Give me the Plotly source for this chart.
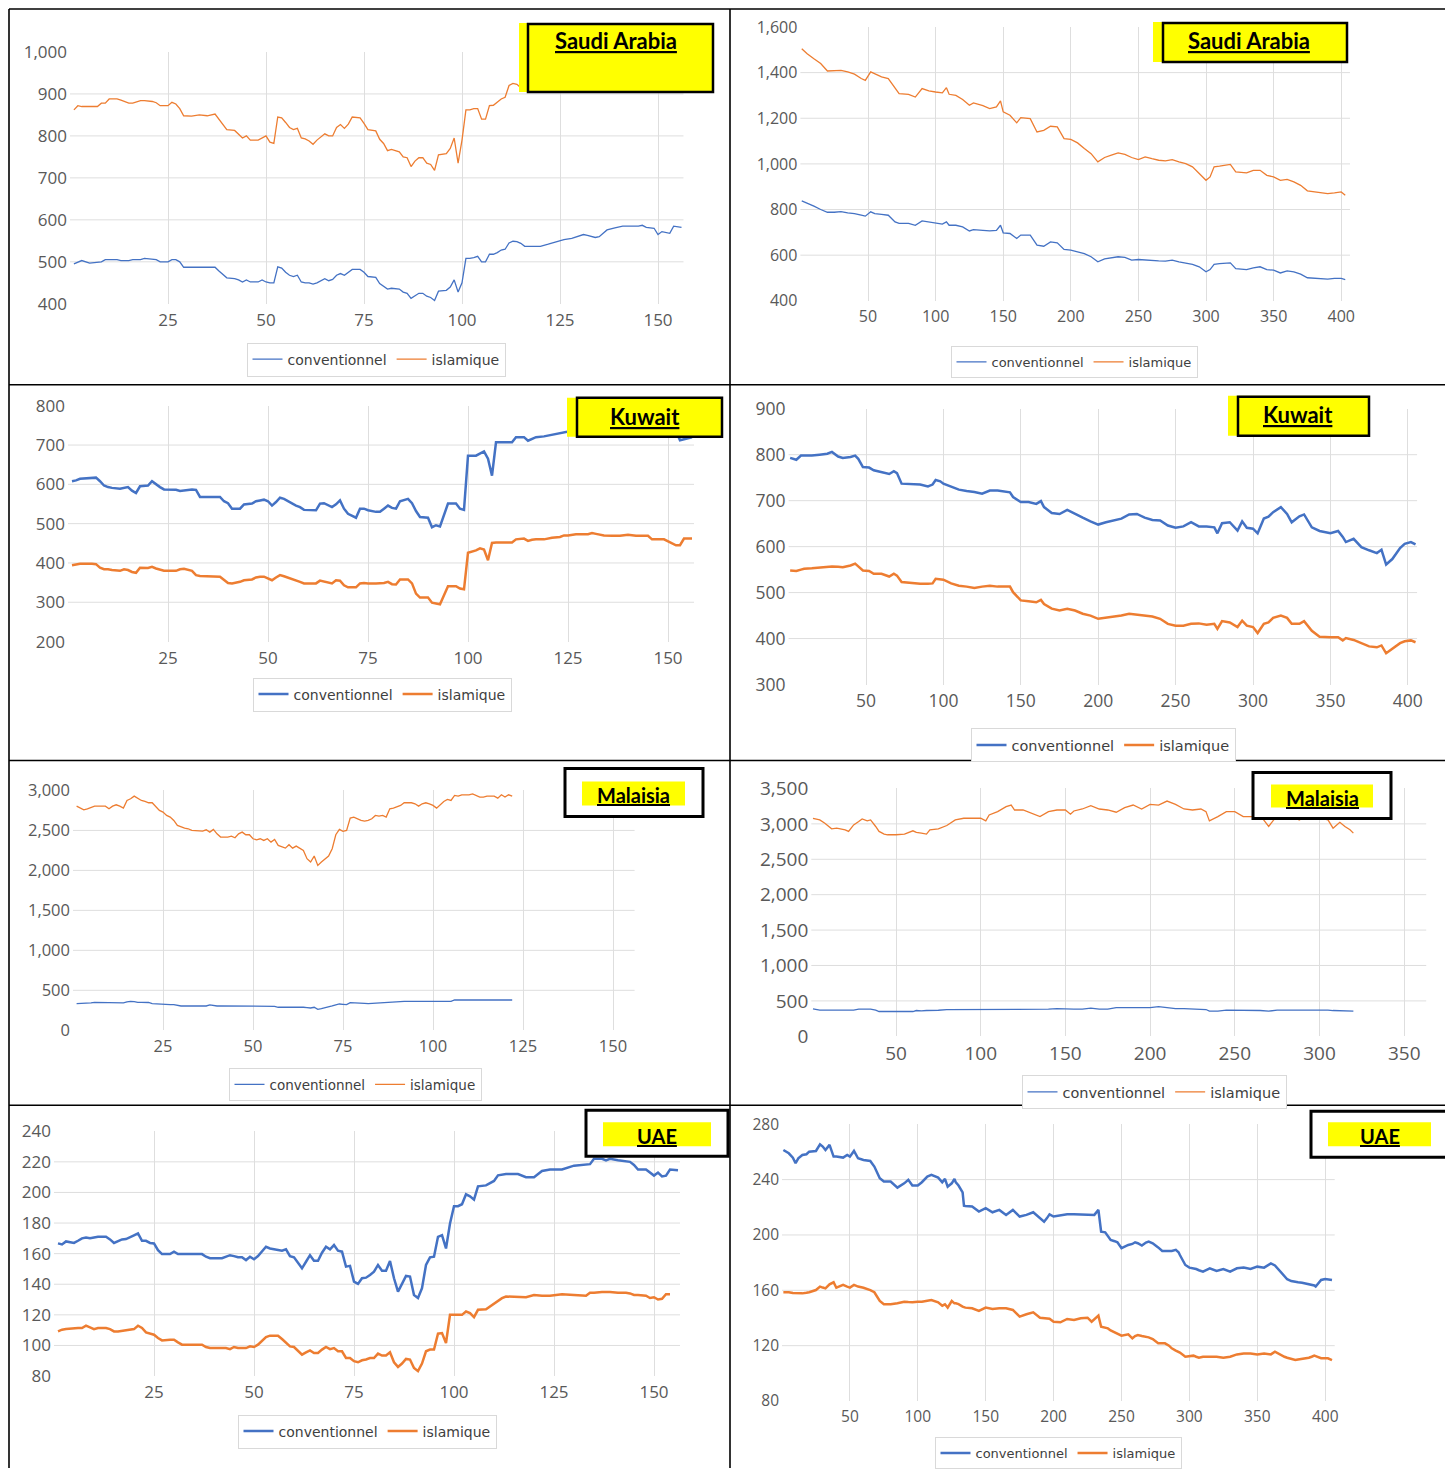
import plotly.graph_objects as go

W, H = 1445, 1469

# ---------------- DATA ----------------
# Panel 1: Saudi Arabia (short period)
sa_s_x = [1,2,3,5,7,8,9,10,12,13,15,16,18,19,21,22,23,25,26,27,28,29,31,33,35,37,38,40,42,43,44,45,46,48,49,50,51,52,53,54,55,56,57,58,59,60,61,62,63,64,65,66,67,68,69,70,71,72,74,75,76,78,79,80,81,82,84,85,86,87,88,89,90,91,92,93,94,96,97,98,99,100,101,102,103,104,105,106,107,108,109,110,111,112,113,114,115,116,118,120,122,124,126,128,130,131,132,134,135,137,139,141,145,146,147,149,150,151,153,154,156]
sa_s_conv = [495,500,503,497,500,500,505,505,505,503,503,505,505,508,507,505,500,500,505,505,500,487,487,487,487,487,478,462,460,457,452,457,452,452,457,452,450,450,488,485,475,468,465,468,452,450,450,447,450,455,460,455,458,468,472,468,474,482,482,475,465,463,448,442,435,437,435,428,425,413,420,425,425,418,415,408,430,432,440,457,428,450,508,508,510,513,500,500,518,518,522,528,530,545,549,548,544,537,537,537,542,547,553,556,561,565,563,558,560,576,581,585,585,587,582,580,565,572,568,585,582]
sa_s_isl = [862,872,870,870,870,878,878,888,888,885,878,878,884,884,882,879,872,872,880,876,865,848,847,850,848,852,840,815,813,805,795,800,790,790,795,800,785,782,845,843,832,820,815,818,795,793,788,780,790,797,805,800,800,820,827,818,828,845,843,830,815,812,792,782,765,768,762,750,748,727,740,748,748,735,732,718,755,758,770,795,735,790,862,862,865,865,840,840,872,873,880,888,892,920,925,923,915,908,912,930,940,945,950,950,955,958,955,952,955,965,968,970,970,972,968,965,950,955,953,965,962]

# Panel 2: Saudi Arabia (long period)
sa_l_x = [1,5,10,15,20,25,30,35,40,45,48,52,55,60,65,70,73,80,85,90,95,100,105,108,110,115,120,125,128,135,140,145,148,150,155,160,163,170,175,180,185,190,195,200,205,210,215,220,225,230,235,240,245,250,255,260,265,270,275,280,285,290,295,300,303,306,310,315,318,322,330,335,340,345,350,355,360,365,370,375,380,385,390,395,400,403]
sa_l_conv = [838,829,815,800,788,788,791,785,782,775,771,790,782,779,775,746,739,739,731,750,746,742,736,746,731,731,724,706,712,709,706,709,731,698,695,673,688,688,644,639,658,654,625,622,614,607,593,571,584,587,593,590,578,581,578,575,575,574,578,571,566,560,549,527,537,560,563,563,566,541,537,544,549,537,534,522,531,527,517,501,498,495,495,498,498,493]
sa_l_isl = [1505,1483,1461,1440,1407,1407,1410,1403,1393,1374,1366,1403,1396,1381,1374,1330,1308,1305,1293,1330,1320,1315,1311,1334,1305,1300,1282,1257,1267,1255,1242,1250,1276,1228,1213,1180,1203,1198,1140,1147,1165,1162,1111,1107,1092,1067,1045,1009,1028,1038,1048,1042,1028,1019,1031,1023,1016,1013,1019,1009,1001,987,958,928,943,987,990,994,998,965,961,972,972,950,943,928,932,921,906,882,877,873,870,873,877,863]

# Panel 3: Kuwait (short period)
kw_s_x = [1,2,3,6,7,8,9,10,11,13,14,15,16,17,18,20,21,22,23,24,27,28,29,31,32,33,38,39,40,41,43,44,46,47,48,49,50,51,52,53,54,55,56,57,58,59,62,63,64,66,67,68,69,70,72,73,74,75,77,78,79,80,81,82,83,85,86,87,88,90,91,92,93,94,95,97,98,99,100,102,103,104,105,106,107,111,112,114,115,116,117,119,121,123,124,125,127,130,131,132,134,136,138,140,142,145,146,149,150,151,152,153,154,156]
kw_s_conv = [608,610,614,616,617,608,597,593,591,589,591,593,584,578,595,597,608,600,593,587,586,583,584,587,586,568,568,557,552,538,538,549,551,557,559,561,557,546,555,566,563,557,552,546,542,535,534,551,552,542,549,559,538,525,515,538,538,534,530,530,538,546,540,538,557,563,552,532,517,515,491,496,493,521,551,551,538,535,673,673,679,684,665,622,707,707,720,720,711,716,720,722,726,730,732,733,738,740,742,742,740,742,744,745,743,745,744,742,740,738,735,712,715,720]
kw_s_isl = [394,396,398,398,397,388,384,384,382,380,384,382,377,375,388,387,390,386,382,380,380,384,385,380,369,367,365,356,349,348,352,356,358,363,365,365,360,356,363,369,366,363,360,356,352,348,348,355,352,348,356,355,343,338,338,348,349,348,348,348,349,352,346,345,358,358,348,322,312,312,299,297,295,318,341,341,335,333,426,432,437,434,407,451,452,452,460,462,456,459,460,460,464,466,470,470,473,473,476,474,470,469,469,472,469,469,460,460,455,452,445,445,462,462]

# Panel 4: Kuwait (long period)
kw_l_x = [1,5,8,10,15,20,25,28,32,35,40,43,45,48,52,55,60,65,68,70,73,80,85,90,93,95,98,100,105,110,115,120,125,130,135,140,143,145,150,155,160,163,165,170,175,180,185,190,195,200,205,210,215,220,225,230,235,240,245,250,255,260,265,270,275,277,280,285,290,293,296,300,303,307,310,313,318,322,325,330,333,338,343,350,355,358,360,365,370,375,380,383,386,390,395,398,402,405]
kw_l_conv = [793,789,798,798,798,800,802,806,796,793,795,798,791,773,772,766,762,758,764,760,737,735,735,731,735,745,742,737,731,724,721,719,715,722,722,719,718,708,697,697,693,699,686,673,671,680,671,663,655,648,653,657,661,670,671,663,658,657,646,641,644,653,644,644,642,629,651,653,635,655,641,639,629,661,665,675,686,671,653,666,670,642,634,629,634,621,610,617,599,592,586,593,561,573,597,606,610,605]
kw_l_isl = [548,547,550,552,553,555,557,557,556,555,559,563,557,548,547,541,541,535,541,537,523,520,519,519,520,530,529,528,520,515,513,510,513,515,513,512,513,501,483,481,479,484,475,465,461,465,461,454,450,443,445,448,450,454,452,450,448,443,432,428,428,432,433,430,432,421,438,435,425,439,428,425,412,432,435,445,450,445,432,432,438,417,404,403,403,396,401,397,390,383,381,385,368,377,390,394,396,392]

# Panel 5: Malaisia (short period)
my_s_x = [1,2,3,4,5,6,9,10,11,12,13,14,15,16,17,18,19,20,21,22,23,24,25,26,27,28,29,30,31,32,33,36,37,38,39,40,41,43,44,45,46,47,48,49,50,51,52,53,54,55,56,57,58,59,60,61,62,63,64,65,66,67,68,69,70,71,72,73,74,75,76,77,78,79,80,81,82,83,84,85,86,87,88,89,90,91,92,94,95,96,97,98,99,100,101,102,103,104,105,106,107,108,110,111,112,113,114,115,117,118,119,120,121,122]
my_s_conv = [333,333,335,338,342,350,348,342,345,350,346,342,355,363,360,350,350,350,348,333,330,321,321,321,321,321,312,304,304,304,304,304,304,317,308,304,304,304,304,304,304,304,304,304,304,304,304,304,304,304,300,288,288,288,290,292,296,292,288,283,279,288,263,270,279,290,304,318,329,325,321,346,346,344,342,338,333,336,340,342,344,346,354,358,363,363,363,363,363,363,363,363,363,363,363,363,363,363,363,379,379,379,379,379,379,379,379,379,379,379,379,379,379,379]
my_s_isl = [2804,2779,2758,2771,2792,2804,2804,2771,2804,2821,2804,2779,2875,2896,2929,2904,2875,2863,2846,2846,2792,2750,2729,2688,2667,2625,2563,2542,2529,2521,2500,2492,2508,2479,2513,2458,2417,2417,2429,2408,2458,2479,2446,2446,2396,2383,2396,2375,2396,2354,2388,2313,2292,2279,2321,2279,2304,2279,2250,2146,2104,2179,2063,2104,2138,2179,2271,2446,2513,2488,2500,2654,2667,2646,2625,2617,2625,2646,2688,2679,2688,2667,2771,2779,2792,2813,2846,2846,2833,2804,2833,2846,2833,2813,2779,2821,2863,2888,2875,2938,2929,2946,2946,2958,2938,2917,2917,2929,2929,2904,2946,2917,2946,2929]

# Panel 6: Malaisia (long period)
my_l_x = [1,5,8,10,12,15,20,22,25,28,30,33,35,38,40,43,45,50,55,60,62,65,68,70,75,80,85,90,95,100,103,105,110,115,118,120,125,130,135,140,145,150,153,155,160,165,170,175,180,185,190,195,200,205,210,215,220,225,230,233,235,240,245,250,255,260,265,270,275,280,285,288,292,298,300,305,308,312,315,318,320]
my_l_conv = [388,369,369,369,369,369,369,369,369,383,383,383,383,370,350,350,350,350,350,350,364,358,364,364,368,378,378,378,378,378,383,383,383,383,383,383,383,383,383,383,392,383,383,383,383,397,383,383,406,406,406,406,406,420,406,392,392,383,383,378,355,355,369,369,369,364,364,355,369,369,369,369,372,374,378,370,364,364,364,364,355]
my_l_isl = [3079,3056,3009,2963,2930,2939,2916,2893,2986,3033,3070,3042,3056,2963,2893,2855,2846,2846,2855,2902,2880,2869,2855,2916,2930,2977,3056,3079,3079,3079,3042,3126,3173,3243,3266,3196,3196,3150,3103,3173,3196,3196,3136,3182,3210,3257,3210,3196,3164,3229,3266,3210,3276,3266,3322,3276,3210,3196,3210,3173,3042,3103,3173,3173,3103,3103,3120,2963,3120,3110,3100,3056,3100,3100,3090,3056,2939,3023,2963,2916,2869]

# Panel 7: UAE (short period)
uae_s_x = [1,2,3,5,6,7,8,9,10,11,13,14,15,16,17,18,19,20,21,22,23,24,25,26,27,29,30,31,32,37,38,39,42,43,44,45,46,47,48,49,50,51,52,53,54,55,56,57,58,59,60,61,62,63,64,65,66,67,68,69,70,71,72,73,74,75,76,77,78,79,80,81,82,83,84,85,86,87,88,89,90,91,92,93,94,95,96,97,98,99,100,101,102,103,104,105,106,108,109,110,111,112,113,116,118,120,122,124,127,130,133,134,135,137,138,139,141,143,144,145,146,148,149,150,151,152,153,154,156]
uae_s_conv = [166.7,166.0,168.0,167.0,168.4,170.0,170.6,170.0,170.6,171.0,171.0,169.3,167.0,168.4,169.3,169.5,171.0,172.0,173.2,168.4,168.4,167.0,166.7,162.3,159.7,159.7,161.3,159.7,159.7,159.7,158.0,157.0,157.0,158.0,159.0,158.4,157.6,157.6,155.8,158.0,156.3,158.4,161.3,164.5,163.4,162.8,162.3,161.9,162.8,158.4,157.6,154.0,150.4,154.7,159.0,155.4,155.4,160.6,164.5,162.8,165.6,161.9,161.3,151.5,152.0,141.7,140.2,143.9,144.3,146.1,148.2,152.6,148.9,148.9,155.2,143.9,135.2,140.2,145.4,145.0,133.0,131.0,137.4,152.6,157.6,158.0,171.0,172.1,163.4,179.7,191.0,191.0,192.3,198.8,197.5,195.3,204.0,204.6,206.2,207.5,211.2,211.8,212.0,212.0,210.0,210.0,214.0,215.0,215.0,217.5,218.5,218.5,222.0,222.0,221.0,222.0,221.0,220.5,220.0,218.0,215.0,215.0,213.0,211.0,213.0,210.5,211.0,215.0,214.5]
uae_s_isl = [109.2,110.3,110.7,111.4,111.4,111.4,112.9,111.8,110.7,111.4,111.4,110.7,109.2,109.2,109.6,110.3,110.7,110.7,112.9,111.4,108.5,107.7,107.0,104.9,103.3,103.8,103.8,102.0,100.5,100.5,99.0,98.3,98.3,98.3,97.6,99.0,98.3,98.3,98.3,99.4,99.0,100.5,102.7,105.5,106.4,106.4,106.4,104.2,102.0,99.4,99.0,96.8,94.0,95.5,96.8,95.1,95.1,97.3,99.0,97.6,98.3,96.2,96.2,91.8,91.8,89.7,89.0,90.3,90.8,91.8,91.8,94.7,93.4,93.4,95.5,89.0,86.0,88.2,91.2,90.8,85.3,83.2,88.2,96.2,97.3,97.3,107.7,108.1,101.6,120.0,120.0,120.0,120.0,122.2,121.1,118.5,123.3,123.7,125.5,127.2,129.4,130.9,132.0,131.5,131.5,133.0,132.5,132.5,133.5,133.0,132.5,134.5,134.5,135.0,135.0,135.0,134.5,134.5,134.0,133.0,133.0,132.5,131.0,131.5,130.0,130.5,133.5,133.5]

# Panel 8: UAE (long period)
uae_l_x = [1,5,8,10,12,15,18,20,25,28,30,32,35,38,40,45,48,50,53,56,60,65,68,72,75,80,85,90,93,96,100,103,107,110,115,118,120,122,125,127,128,130,133,134,135,140,145,150,155,160,165,170,175,180,185,190,193,195,197,200,205,210,215,220,225,228,230,233,235,238,240,242,245,247,250,255,258,260,262,265,268,270,273,275,277,280,282,285,287,290,292,293,297,300,303,305,307,310,315,320,325,330,335,340,345,350,355,360,363,365,368,370,372,375,378,380,383,385,388,390,392,393,397,400,402,405]
uae_l_conv = [261.4,259.0,255.9,251.8,255.4,257.8,258.3,260.2,260.7,265.5,263.9,261.4,265.1,256.6,256.6,255.9,257.8,256.6,260.7,255.4,254.2,253.5,249.4,241.0,238.6,238.6,234.2,237.3,239.8,235.7,235.7,238.1,242.2,243.4,241.4,238.1,240.5,234.9,237.3,240.5,238.0,235.7,230.8,221.2,221.0,220.5,216.9,219.3,216.4,218.1,214.5,218.1,213.3,214.5,216.4,212.0,209.6,212.0,214.9,213.3,214.0,214.9,214.9,214.9,214.5,214.5,214.5,218.1,202.4,201.9,199.0,196.4,195.5,194.7,190.4,192.8,193.5,194.7,194.0,192.3,194.5,195.2,194.0,192.8,191.0,188.4,188.4,188.4,188.4,189.2,187.5,185.5,178.3,176.4,176.0,175.4,174.5,173.5,175.9,174.0,175.4,173.5,175.9,176.4,175.4,177.1,176.4,179.5,178.0,175.9,172.5,169.9,168.0,166.7,166.0,165.8,165.5,165.1,164.8,164.3,163.5,162.7,167.5,168.2,167.8,167.5]
uae_l_isl = [158.6,158.6,158.0,157.8,158.0,157.8,158.2,158.6,160.2,162.7,162.0,161.4,164.3,165.8,161.9,163.9,162.7,162.0,163.9,162.7,161.9,160.2,158.6,152.3,149.9,149.9,150.6,151.8,151.5,151.3,151.8,151.8,152.5,153.0,151.3,148.9,149.9,147.5,152.3,150.6,150.6,150.0,148.2,147.8,147.5,147.0,145.1,147.5,146.5,147.0,147.0,145.8,141.0,142.7,144.1,140.2,140.0,139.8,139.5,137.3,136.9,139.3,138.6,139.8,140.2,137.3,139.0,141.7,133.7,133.0,132.5,131.0,129.6,128.5,127.2,128.2,125.3,127.0,127.7,127.0,126.5,126.0,124.8,123.5,121.7,121.7,121.7,120.0,118.1,116.5,115.7,115.0,112.0,112.5,112.8,112.0,111.3,112.0,112.0,112.0,111.3,112.0,113.7,114.4,114.4,113.7,114.4,113.7,115.7,114.5,112.8,112.0,111.3,110.5,109.6,110.0,110.4,110.8,111.3,112.0,112.8,112.5,110.9,110.9,110.9,109.6]

series_names = ["conventionnel", "islamique"]
BLUE = "#4472C4"
ORANGE = "#ED7D31"

# ---------------- LAYOUT HELPERS ----------------
def fx(px):
    return px / W

def fy(py):
    return 1 - py / H

panels = [
    dict(x=sa_s_x, c=sa_s_conv, i=sa_s_isl, x0=70, k=3.92, xr=[0, 156.5], yr=[400, 1000], ypx=[304, 52],
         xt=[25, 50, 75, 100, 125, 150], yt=[400, 500, 600, 700, 800, 900, 1000], lw=1.3, fs=17,
         leg=(376, 359.5), lfs=14),
    dict(x=sa_l_x, c=sa_l_conv, i=sa_l_isl, x0=800.4, k=1.352, xr=[0, 406.5], yr=[400, 1600], ypx=[301, 27],
         xt=[50, 100, 150, 200, 250, 300, 350, 400], yt=[400, 600, 800, 1000, 1200, 1400, 1600], lw=1.3, fs=16,
         leg=(1074, 362), lfs=13),
    dict(x=kw_s_x, c=kw_s_conv, i=kw_s_isl, x0=68, k=4.0, xr=[0, 156.5], yr=[200, 800], ypx=[642, 406],
         xt=[25, 50, 75, 100, 125, 150], yt=[200, 300, 400, 500, 600, 700, 800], lw=2.5, fs=17,
         leg=(382, 694.5), lfs=14),
    dict(x=kw_l_x, c=kw_l_conv, i=kw_l_isl, x0=788.6, k=1.548, xr=[0, 406], yr=[300, 900], ypx=[685, 409],
         xt=[50, 100, 150, 200, 250, 300, 350, 400], yt=[300, 400, 500, 600, 700, 800, 900], lw=2.5, fs=17.5,
         leg=(1103, 745), lfs=14.5),
    dict(x=my_s_x, c=my_s_conv, i=my_s_isl, x0=73, k=3.6, xr=[0, 156], yr=[0, 3000], ypx=[1031, 791],
         xt=[25, 50, 75, 100, 125, 150], yt=[0, 500, 1000, 1500, 2000, 2500, 3000], lw=1.3, fs=16.5,
         leg=(355, 1084.5), lfs=13.5),
    dict(x=my_l_x, c=my_l_conv, i=my_l_isl, x0=811.3, k=1.694, xr=[0, 363], yr=[0, 3500], ypx=[1037, 789],
         xt=[50, 100, 150, 200, 250, 300, 350], yt=[0, 500, 1000, 1500, 2000, 2500, 3000, 3500], lw=1.3, fs=19,
         leg=(1154, 1092), lfs=14.5),
    dict(x=uae_s_x, c=uae_s_conv, i=uae_s_isl, x0=54, k=4.0, xr=[0, 156.5], yr=[80, 240], ypx=[1377, 1132],
         xt=[25, 50, 75, 100, 125, 150], yt=[80, 100, 120, 140, 160, 180, 200, 220, 240], lw=2.5, fs=17,
         leg=(367, 1431.5), lfs=14),
    dict(x=uae_l_x, c=uae_l_conv, i=uae_l_isl, x0=782, k=1.358, xr=[0, 407], yr=[80, 280], ypx=[1402, 1125],
         xt=[50, 100, 150, 200, 250, 300, 350, 400], yt=[80, 120, 160, 200, 240, 280], lw=2.5, fs=15.5,
         leg=(1058, 1454), lfs=13),
]

fig = go.Figure()
layout = dict(width=W, height=H, margin=dict(l=0, r=0, t=0, b=0, pad=0), autosize=False,
              paper_bgcolor="white", plot_bgcolor="white", showlegend=True)

TICKFONT = "Open Sans"
shapes = []
for n, p in enumerate(panels, start=1):
    sx = "" if n == 1 else str(n)
    lg = "legend" if n == 1 else "legend" + str(n)
    for name, ys, col in ((series_names[0], p["c"], BLUE), (series_names[1], p["i"], ORANGE)):
        fig.add_trace(go.Scatter(x=p["x"], y=ys, mode="lines", name=name,
                                 line=dict(color=col, width=p["lw"]),
                                 xaxis="x" + sx, yaxis="y" + sx, legend=lg))
    xd = [fx(p["x0"] + p["xr"][0] * p["k"]), fx(p["x0"] + p["xr"][1] * p["k"])]
    yd = [fy(p["ypx"][0]), fy(p["ypx"][1])]
    layout["xaxis" + sx] = dict(domain=xd, range=p["xr"], anchor="y" + sx, tickvals=p["xt"],
                                showgrid=True, gridcolor="#dedede", gridwidth=1, zeroline=False,
                                showline=False, ticks="", ticklabelstandoff=4, automargin=False,
                                tickfont=dict(family=TICKFONT, size=p["fs"], color="#595959"))
    layout["yaxis" + sx] = dict(domain=yd, range=p["yr"], anchor="x" + sx, tickvals=p["yt"],
                                tickformat=",", showgrid=False, zeroline=False, showline=False,
                                ticks="", ticklabelstandoff=2, automargin=False,
                                tickfont=dict(family=TICKFONT, size=p["fs"], color="#595959"))
    # horizontal gridlines (intermediate values only, as in the original)
    for v in p["yt"][1:-1]:
        shapes.append(dict(type="line", xref="x" + sx + " domain", x0=0, x1=1,
                           yref="y" + sx, y0=v, y1=v, layer="below",
                           line=dict(color="#dedede", width=1)))
    layout[lg] = dict(x=fx(p["leg"][0]), y=fy(p["leg"][1]), xanchor="center", yanchor="middle",
                      orientation="h", bordercolor="#d9d9d9", borderwidth=1, bgcolor="white",
                      font=dict(family="DejaVu Sans", size=p["lfs"], color="#404040"),
                      itemwidth=30, tracegroupgap=0)


def rect(x0, y0, x1, y1, fill, line_color=None, lw=0):
    shapes.append(dict(type="rect", xref="paper", yref="paper", x0=fx(x0), x1=fx(x1),
                       y0=fy(y1), y1=fy(y0), fillcolor=fill,
                       line=dict(color=line_color or fill, width=lw), layer="above"))

def line(x0, y0, x1, y1, lw=1.6):
    shapes.append(dict(type="line", xref="paper", yref="paper", x0=fx(x0), x1=fx(x1),
                       y0=fy(y0), y1=fy(y1), line=dict(color="black", width=lw), layer="above"))

# panel borders
line(9, 9, 1445, 9)
line(9, 9, 9, 1469)
line(730, 9, 730, 1469)
for yy in (385, 761, 1106):
    line(9, yy, 1445, yy)

YEL = "#FFFF00"
# title boxes
rect(519, 23, 713, 92, YEL)
rect(528, 24, 713, 92, YEL, "black", 2.5)
rect(1153, 22, 1347, 62, YEL)
rect(1163, 23, 1347, 62, YEL, "black", 2.5)
rect(567, 398, 722, 437, YEL)
rect(577, 398, 722, 437, YEL, "black", 2.5)
rect(1228, 396, 1369, 436, YEL)
rect(1238, 397, 1369, 436, YEL, "black", 2.5)
rect(565, 769, 703, 817, "white", "black", 3)
rect(582, 782, 685, 806, YEL)
rect(1253, 773, 1391, 819, "white", "black", 3)
rect(1271, 785, 1373, 808, YEL)
rect(586, 1111, 728, 1157, "white", "black", 3)
rect(603, 1123, 711, 1147, YEL)
rect(1311, 1112, 1450, 1158, "white", "black", 3)
rect(1328, 1123, 1431, 1147, YEL)

titles = [("Saudi Arabia", 616, 41, 22), ("Saudi Arabia", 1249, 41, 22),
          ("Kuwait", 645, 417, 22), ("Kuwait", 1298, 415, 22),
          ("Malaisia", 633, 796, 20), ("Malaisia", 1322, 799, 20),
          ("UAE", 657, 1137, 20), ("UAE", 1380, 1137, 20)]
annotations = []
for t, x, y, s in titles:
    annotations.append(dict(text="<b><u>" + t + "</u></b>", x=fx(x), y=fy(y), xref="paper", yref="paper",
                            xanchor="center", yanchor="middle", showarrow=False,
                            font=dict(family="Lato", size=s, color="black")))

layout["shapes"] = shapes
layout["annotations"] = annotations
fig.update_layout(**layout)
fig.write_html("out.html", config={"displayModeBar": False},
               post_script="document.body.style.margin='0';document.body.style.padding='0';"
                           "document.body.style.overflow='hidden';")
